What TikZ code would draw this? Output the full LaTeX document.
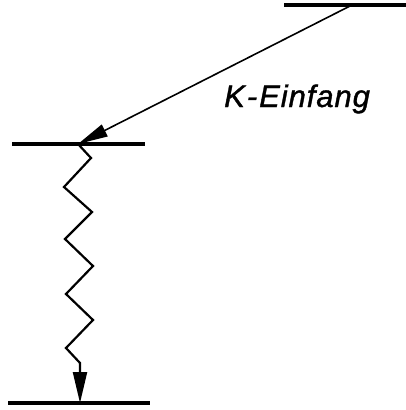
\documentclass[tikz,border=0pt]{standalone}
\usepackage{fontspec}
\setmainfont{Liberation Sans}
\newfontfamily\labelfont[LetterSpace=3,FakeBold=1.2]{Liberation Sans Italic}
\usetikzlibrary{arrows.meta}
\begin{document}
\begin{tikzpicture}[x=1bp,y=-1bp,
  level/.style={line width=3.2bp},
  capture/.style={line width=1.6bp,-{Triangle[length=30bp,width=13bp]}},
  gamma/.style={line width=2.2bp,line join=miter,-{Triangle[length=31bp,width=14bp]}},
  lbl/.style={font=\labelfont\fontsize{31bp}{36bp}\selectfont,inner sep=0pt}]
\useasboundingbox (0,0) rectangle (406,410);
% level end points
\coordinate (t1) at (284,5);
\coordinate (t2) at (406,5);
\coordinate (m1) at (12,144);
\coordinate (m2) at (145,144);
\coordinate (b1) at (8,403);
\coordinate (b2) at (150,403);
\coordinate (start) at (352,5);
\coordinate (hit) at (78,144);
\coordinate (land) at (80,403);
% levels
\draw[level] (t1) -- (t2);
\draw[level] (m1) -- (m2);
\draw[level] (b1) -- (b2);
% K capture arrow
\draw[capture] (start) -- (hit);
% gamma zigzag
\draw[gamma] (hit) -- (91,158) -- (64,187) -- (92,212) -- (65,239) -- (93,266)
  -- (66,294) -- (93,320) -- (66,348) -- (80,363) -- (land);
% label
\node[lbl,anchor=base west] (klabel) at (224,107) {K\kern2bp-\kern2bp Einfang};
\end{tikzpicture}
\end{document}
